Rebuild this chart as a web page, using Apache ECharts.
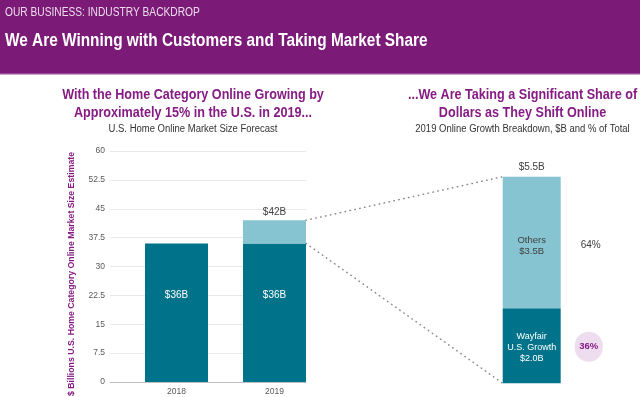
<!DOCTYPE html>
<html>
<head>
<meta charset="utf-8">
<script src="https://cdn.jsdelivr.net/npm/echarts@6/dist/echarts.min.js"></script>
<style>
html, body { margin: 0; padding: 0; background: #fff; }
#main { width: 640px; height: 397px; }
</style>
</head>
<body>
<div id="main"></div>
<script>
// left chart: market size by year
var years = ['2018', '2019'];
var baseValues = [36, 36];
var growthValues = ['-', 6];
// right chart: 2019 growth breakdown
var shareCats = ['2019 growth'];
var wayfairValues = [2.0];
var othersValues = [3.5];

var FONT = '"Liberation Sans", Arial, sans-serif';
var PURPLE = '#861B84';
var DARK = '#00738A';
var LIGHT = '#85C4D0';

var total2019 = baseValues[1] + growthValues[1];
var shareTotal = wayfairValues[0] + othersValues[0];

var chart = echarts.init(document.getElementById('main'));

var option = {
    animation: false,
    textStyle: { fontFamily: FONT },
    grid: [
        { left: 110, top: 151, width: 196, height: 231 },
        { left: 127.5, top: 151, width: 196, height: 231 },
        { left: 502.7, top: 176.7, width: 58, height: 206.6 }
    ],
    xAxis: [
        { gridIndex: 0, type: 'category', data: years, axisLine: { lineStyle: { color: '#BFBFBF' } },
          axisTick: { show: false }, axisLabel: { show: false } },
        { gridIndex: 1, type: 'category', data: years, axisLine: { show: false }, axisTick: { show: false },
          axisLabel: { fontSize: 8.5, color: '#595959', margin: 5 } },
        { gridIndex: 2, type: 'category', data: shareCats, show: false }
    ],
    yAxis: [
        { gridIndex: 0, type: 'value', min: 0, max: 60, interval: 7.5,
          axisLabel: { fontSize: 8.5, color: '#595959', margin: 5 },
          splitLine: { lineStyle: { color: '#E8E8E8' } } },
        { gridIndex: 1, type: 'value', min: 0, max: 60, show: false },
        { gridIndex: 2, type: 'value', min: 0, max: shareTotal, show: false }
    ],
    series: [
        {
            name: 'base', type: 'bar', xAxisIndex: 1, yAxisIndex: 1, stack: 'size', barWidth: 63,
            data: baseValues, itemStyle: { color: DARK },
            label: { show: true, position: ['50%', '34%'], align: 'center', color: '#fff', fontSize: 10,
                     formatter: function (p) { return '$' + p.value + 'B'; } }
        },
        {
            name: 'growth', type: 'bar', xAxisIndex: 1, yAxisIndex: 1, stack: 'size', barWidth: 63,
            data: growthValues, itemStyle: { color: LIGHT },
            label: { show: true, position: 'top', distance: 3, color: '#404040', fontSize: 10,
                     formatter: function () { return '$' + total2019 + 'B'; } }
        },
        {
            name: 'Wayfair', type: 'bar', xAxisIndex: 2, yAxisIndex: 2, stack: 'share', barWidth: '100%',
            data: wayfairValues, itemStyle: { color: DARK },
            label: { show: true, position: 'inside', offset: [0, 2], color: '#fff', fontSize: 9, lineHeight: 11,
                     formatter: function (p) { return 'Wayfair\nU.S. Growth\n$' + p.value.toFixed(1) + 'B'; } }
        },
        {
            name: 'Others', type: 'bar', xAxisIndex: 2, yAxisIndex: 2, stack: 'share', barWidth: '100%',
            data: othersValues, itemStyle: { color: LIGHT },
            label: { show: true, position: 'inside', offset: [0, 3], color: '#3F3F3F', fontSize: 9.5, lineHeight: 11,
                     formatter: function (p) { return 'Others\n$' + p.value.toFixed(1) + 'B'; } }
        },
        {
            name: 'pctWayfair', type: 'bar', xAxisIndex: 2, yAxisIndex: 2, stack: 'pct', barWidth: '100%', barGap: '-100%',
            data: wayfairValues, itemStyle: { color: 'rgba(0,0,0,0)' }, silent: true,
            label: { show: true, position: 'right', distance: 28, offset: [0, 1], color: PURPLE, fontSize: 9.5, fontWeight: 'bold',
                     backgroundColor: '#EEDDEE', borderRadius: 15, width: 28, height: 30, lineHeight: 30, align: 'center',
                     formatter: function (p) { return Math.round(p.value / shareTotal * 100) + '%'; } }
        },
        {
            name: 'pctOthers', type: 'bar', xAxisIndex: 2, yAxisIndex: 2, stack: 'pct', barWidth: '100%', barGap: '-100%',
            data: othersValues, itemStyle: { color: 'rgba(0,0,0,0)' }, silent: true,
            label: { show: true, position: 'right', distance: 30, offset: [0, 3], color: '#404040', fontSize: 10,
                     width: 30, align: 'center',
                     formatter: function (p) { return Math.round(p.value / shareTotal * 100) + '%'; } }
        },
        {
            name: 'total', type: 'bar', xAxisIndex: 2, yAxisIndex: 2, barWidth: '100%', barGap: '-100%',
            data: [shareTotal], itemStyle: { color: 'rgba(0,0,0,0)' }, silent: true,
            label: { show: true, position: 'top', distance: 4, color: '#404040', fontSize: 10,
                     formatter: function (p) { return '$' + p.value + 'B'; } }
        }
    ]
};
chart.setOption(option);

// header band, titles, axis title and dotted connectors
var topLeft = chart.convertToPixel({ xAxisIndex: 1, yAxisIndex: 1 }, ['2019', total2019]);
var botLeft = chart.convertToPixel({ xAxisIndex: 1, yAxisIndex: 1 }, ['2019', baseValues[1]]);
var topRight = chart.convertToPixel({ xAxisIndex: 2, yAxisIndex: 2 }, [shareCats[0], shareTotal]);
var botRight = chart.convertToPixel({ xAxisIndex: 2, yAxisIndex: 2 }, [shareCats[0], 0]);
var lx = topLeft[0] + 63 / 2, rx = topRight[0] - 29;
var dots = { stroke: '#8C8C8C', lineWidth: 1.5, lineDash: [0.5, 4.5], lineCap: 'round' };

function txt(text, x, y, font, fill, align, sx, rot) {
    return { type: 'text', x: x, y: y, scaleX: sx, rotation: rot || 0,
             style: { text: text, font: font, fill: fill, align: align, verticalAlign: 'middle' } };
}

chart.setOption({
    graphic: [
        { type: 'rect', shape: { x: 0, y: 0, width: 640, height: 74 }, style: { fill: '#7B1A77' }, z: -1 },
        { type: 'rect', shape: { x: 0, y: 73, width: 640, height: 1.5 }, style: { fill: '#9A4A96' } },
        txt('OUR BUSINESS: INDUSTRY BACKDROP', 5, 13, '12px ' + FONT, '#EBDDEB', 'left', 0.85),
        txt('We Are Winning with Customers and Taking Market Share', 5, 41, 'bold 19px ' + FONT, '#fff', 'left', 0.81),
        txt('With the Home Category Online Growing by', 193, 95, 'bold 14px ' + FONT, PURPLE, 'center', 0.9),
        txt('Approximately 15% in the U.S. in 2019...', 193, 113, 'bold 14px ' + FONT, PURPLE, 'center', 0.9),
        txt('U.S. Home Online Market Size Forecast', 193, 129, '10px ' + FONT, '#333', 'center', 0.95),
        txt('...We Are Taking a Significant Share of', 522.5, 95, 'bold 14px ' + FONT, PURPLE, 'center', 0.9),
        txt('Dollars as They Shift Online', 522.5, 113, 'bold 14px ' + FONT, PURPLE, 'center', 0.9),
        txt('2019 Online Growth Breakdown, $B and % of Total', 522.5, 129, '10px ' + FONT, '#333', 'center', 0.95),
        txt('$ Billions U.S. Home Category Online Market Size Estimate', 72, 274, 'bold 9px ' + FONT, PURPLE, 'center', 0.97, Math.PI / 2),
        { type: 'line', shape: { x1: lx, y1: topLeft[1], x2: rx, y2: topRight[1] }, style: dots },
        { type: 'line', shape: { x1: lx, y1: botLeft[1], x2: rx, y2: botRight[1] }, style: dots }
    ]
});
</script>
</body>
</html>
